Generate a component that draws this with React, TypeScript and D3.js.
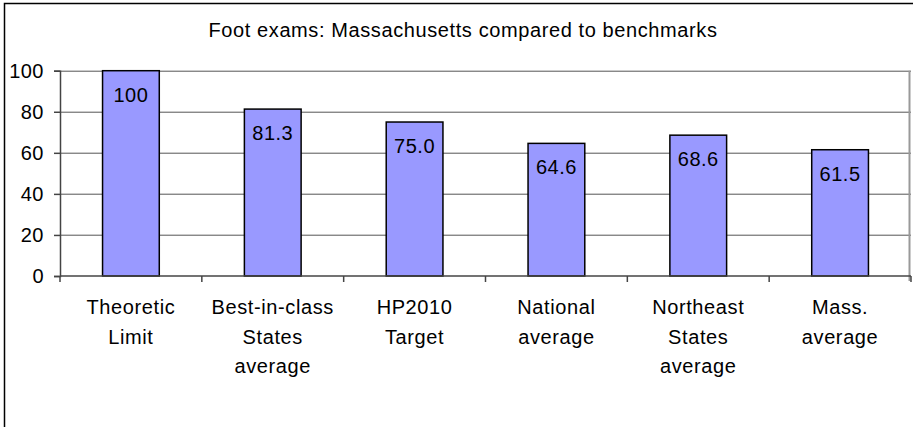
import { useEffect, useRef } from 'react'
import * as d3 from 'd3'

const categories = [
  ['Theoretic', 'Limit'],
  ['Best-in-class', 'States', 'average'],
  ['HP2010', 'Target'],
  ['National', 'average'],
  ['Northeast', 'States', 'average'],
  ['Mass.', 'average'],
]
const values = [100, 81.3, 75.0, 64.6, 68.6, 61.5]
const valueLabels = ['100', '81.3', '75.0', '64.6', '68.6', '61.5']
const yTicks = [0, 20, 40, 60, 80, 100]
const title = 'Foot exams: Massachusetts compared to benchmarks'

export default function App() {
  const svgRef = useRef<SVGSVGElement>(null)

  useEffect(() => {
    const svg = d3.select(svgRef.current)
    svg.selectAll('*').remove()

    const W = 913
    const H = 427
    const margin = { top: 70.7, right: 2, bottom: 151, left: 60 }
    const innerW = W - margin.left - margin.right
    const innerH = H - margin.top - margin.bottom
    const font = '"Liberation Sans", Arial, sans-serif'

    svg.attr('width', W).attr('height', H)

    // outer chart frame (runs off the right and bottom edge)
    svg.append('rect')
      .attr('x', 4.5)
      .attr('y', 3.5)
      .attr('width', W + 20)
      .attr('height', H + 20)
      .attr('fill', '#fff')
      .attr('stroke', '#000')
      .attr('stroke-width', 1.5)

    svg.append('text')
      .attr('x', 463)
      .attr('y', 37)
      .attr('text-anchor', 'middle')
      .style('font-family', font)
      .style('font-size', '20px')
      .style('letter-spacing', '0.6px')
      .attr('fill', '#000')
      .text(title)

    const g = svg.append('g')
      .attr('transform', `translate(${margin.left},${margin.top})`)

    const x = d3.scaleBand<number>()
      .domain(d3.range(values.length))
      .range([0, innerW])
      .paddingInner(0.6)
      .paddingOuter(0.3)
    const band = innerW / values.length
    const y = d3.scaleLinear().domain([0, 100]).range([innerH, 0])

    // grid lines
    g.selectAll('.grid')
      .data(yTicks.filter((d) => d > 0))
      .enter()
      .append('line')
      .attr('x1', 0)
      .attr('x2', innerW)
      .attr('y1', (d) => Math.round(y(d)) + 0.5)
      .attr('y2', (d) => Math.round(y(d)) + 0.5)
      .attr('stroke', '#555')
      .attr('stroke-width', 1)

    // plot area right border
    g.append('line')
      .attr('x1', innerW - 1.5)
      .attr('x2', innerW - 1.5)
      .attr('y1', 0)
      .attr('y2', innerH + 5)
      .attr('stroke', '#999')
      .attr('stroke-width', 2)

    // bars
    g.selectAll('.bar')
      .data(values)
      .enter()
      .append('rect')
      .attr('x', (_, i) => x(i)!)
      .attr('y', (d) => y(d))
      .attr('width', x.bandwidth())
      .attr('height', (d) => innerH - y(d))
      .attr('fill', '#9999ff')
      .attr('stroke', '#000')
      .attr('stroke-width', 1.5)

    // value labels
    g.selectAll('.val')
      .data(values)
      .enter()
      .append('text')
      .attr('x', (_, i) => x(i)! + x.bandwidth() / 2)
      .attr('y', (d) => y(d) + 31)
      .attr('text-anchor', 'middle')
      .style('font-family', font)
      .style('font-size', '20px')
      .style('letter-spacing', '0.5px')
      .attr('fill', '#000')
      .text((_, i) => valueLabels[i])

    // y axis
    g.append('g')
      .call(d3.axisLeft(y).tickValues(yTicks).tickSize(6).tickPadding(10))
      .call((axis) => {
        axis.select('.domain').attr('stroke', '#444').attr('stroke-width', 1.5)
        axis.selectAll('.tick line').attr('stroke', '#444').attr('stroke-width', 1.5)
        axis.selectAll('.tick text')
          .attr('fill', '#000')
          .style('font-family', font)
          .style('font-size', '20px')
          .style('letter-spacing', '0.5px')
      })

    // x axis
    const xAxis = g.append('g').attr('transform', `translate(0,${innerH})`)
    xAxis.append('line')
      .attr('x1', 0)
      .attr('x2', innerW)
      .attr('stroke', '#444')
      .attr('stroke-width', 1.5)
    xAxis.selectAll('.xtick')
      .data(d3.range(values.length + 1))
      .enter()
      .append('line')
      .attr('x1', (i) => i * band)
      .attr('x2', (i) => i * band)
      .attr('y1', 0)
      .attr('y2', 6)
      .attr('stroke', '#444')
      .attr('stroke-width', 1.5)

    const labels = xAxis.selectAll('.xlabel')
      .data(categories)
      .enter()
      .append('text')
      .attr('text-anchor', 'middle')
      .style('font-family', font)
      .style('font-size', '20px')
      .style('letter-spacing', '0.6px')
      .attr('fill', '#000')
    labels.each(function (lines, i) {
      const t = d3.select(this)
      lines.forEach((line, j) => {
        t.append('tspan')
          .attr('x', x(i)! + x.bandwidth() / 2)
          .attr('y', 38 + j * 29.5)
          .text(line)
      })
    })
  }, [])

  return (
    <svg ref={svgRef} style={{ position: 'absolute', left: 0, top: 0 }} />
  )
}
